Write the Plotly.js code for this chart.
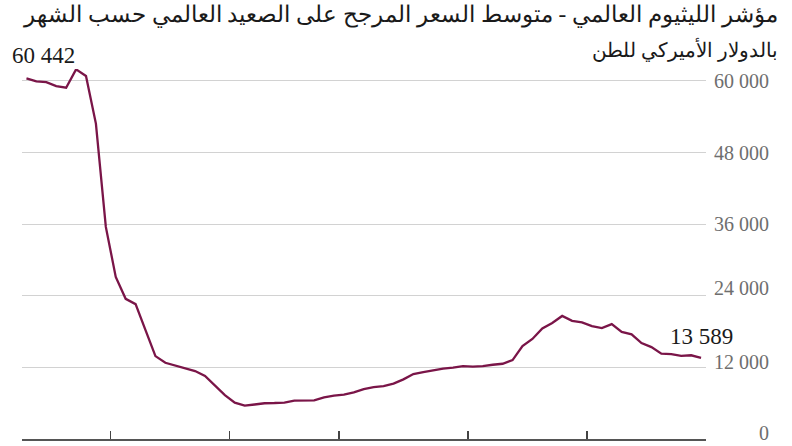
<!DOCTYPE html>
<html>
<head>
<meta charset="utf-8">
<script src="https://cdn.plot.ly/plotly-3.0.1.min.js"></script>
<style>
  html, body { margin: 0; padding: 0; background: #fff; }
  #chart { width: 792px; height: 446px; }
</style>
</head>
<body>
<div id="chart"></div>
<script>
// Data: monthly global weighted average lithium index (USD per tonne)
const prices = [
  60442, 59930, 59810, 59140, 58870, 61940, 60820, 52850, 35540, 27170,
  23490, 22600, 18250, 13890, 12770, 12270, 11880, 11380, 10550, 8990,
  7360, 6080, 5580, 5780, 5990, 6030, 6110, 6440, 6480, 6480,
  6980, 7280, 7420, 7820, 8370, 8700, 8870, 9290, 9990, 10880,
  11220, 11550, 11800, 11970, 12220, 12140, 12220, 12440, 12610, 13220,
  15570, 16770, 18530, 19450, 20620, 19800, 19540, 18920, 18580, 19250,
  17960, 17540, 16070, 15400, 14310, 14230, 13930, 14030, 13589
];
const firstLabel = '60 442';
const lastLabel = '13 589';
const yTickValues = [0, 12000, 24000, 36000, 48000, 60000];
const yTickLabels = ['0', '12 000', '24 000', '36 000', '48 000', '60 000'];
const xTickValues = [8.5, 20.5, 31.5, 44.5, 56.5, 68.5];
const titleLine1 = 'مؤشر الليثيوم العالمي - متوسط السعر المرجح على الصعيد العالمي حسب الشهر';
const titleLine2 = 'بالدولار الأميركي للطن';

const months = prices.map((_, i) => i);
const lastIndex = months[months.length - 1];

// layout helpers (styling only)
const labelShift = [6, 5, 8, 0, 0, 0];
const serif = 'Liberation Serif, Times New Roman, DejaVu Serif, serif';

const trace = {
  x: months,
  y: prices,
  type: 'scatter',
  mode: 'lines',
  line: { color: '#7a1548', width: 2.3 },
  hoverinfo: 'skip',
  cliponaxis: false
};

const annotations = [];
yTickValues.forEach((v, k) => {
  annotations.push({
    xref: 'paper', yref: 'y', x: 1.095, y: v,
    xanchor: 'right', yanchor: 'middle', yshift: labelShift[k],
    text: yTickLabels[k], showarrow: false,
    font: { family: serif, size: 20, color: '#6e6e6e' }
  });
});
annotations.push({
  xref: 'x', yref: 'y', x: months[0], y: prices[0],
  xanchor: 'center', yanchor: 'middle', xshift: 17, yshift: 23,
  text: firstLabel, showarrow: false,
  font: { family: serif, size: 23, color: '#1a1a1a' }
});
annotations.push({
  xref: 'x', yref: 'y', x: lastIndex, y: prices[lastIndex],
  xanchor: 'center', yanchor: 'middle', xshift: 0, yshift: 21,
  text: lastLabel, showarrow: false,
  font: { family: serif, size: 23, color: '#1a1a1a' }
});
annotations.push({
  xref: 'paper', yref: 'paper', x: 1.108, y: 1.146,
  xanchor: 'right', yanchor: 'middle',
  text: titleLine1, showarrow: false,
  font: { family: serif, size: 23.3, color: '#1a1a1a' }
});
annotations.push({
  xref: 'paper', yref: 'paper', x: 1.108, y: 1.052,
  xanchor: 'right', yanchor: 'middle',
  text: titleLine2, showarrow: false,
  font: { family: serif, size: 20.4, color: '#1a1a1a' }
});

const layout = {
  width: 792,
  height: 446,
  margin: { l: 22, r: 86, t: 69, b: 7, pad: 0 },
  paper_bgcolor: '#ffffff',
  plot_bgcolor: '#ffffff',
  showlegend: false,
  xaxis: {
    range: [-0.45, 68.5],
    tickvals: xTickValues,
    ticktext: xTickValues.map(() => ''),
    ticks: 'inside',
    ticklen: 8,
    tickwidth: 1.2,
    tickcolor: '#444',
    showgrid: false,
    zeroline: false,
    showline: true,
    linecolor: '#555',
    linewidth: 2,
    fixedrange: true
  },
  yaxis: {
    range: [0, 62000],
    tickvals: yTickValues,
    showticklabels: false,
    showgrid: true,
    gridcolor: '#d2d2d2',
    gridwidth: 1,
    zeroline: false,
    showline: false,
    ticks: '',
    fixedrange: true
  },
  annotations: annotations
};

Plotly.newPlot('chart', [trace], layout, { staticPlot: true, displayModeBar: false });
</script>
</body>
</html>
